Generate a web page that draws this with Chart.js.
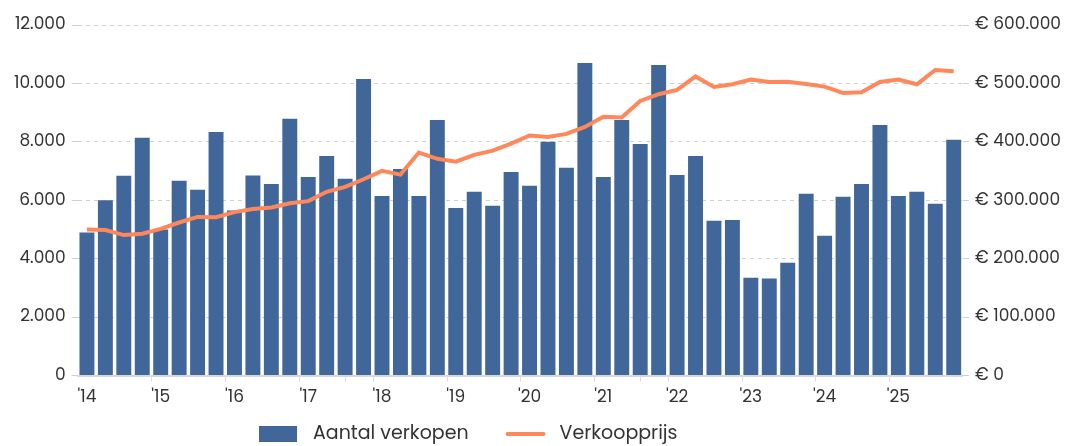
<!DOCTYPE html>
<html>
<head>
<meta charset="utf-8">
<script src="https://cdn.jsdelivr.net/npm/chart.js@4"></script>
<style>
  html, body { margin: 0; padding: 0; background: #fff; }
  #wrap { width: 1071px; height: 446px; }
</style>
</head>
<body>
<div id="wrap"><canvas id="chart"></canvas></div>
<script>
// quarters 2014 Q1 .. 2025 Q4
var years = ['2014','2015','2016','2017','2018','2019','2020','2021','2022','2023','2024','2025'];
var yearTicks = ["'14","'15","'16","'17","'18","'19","'20","'21","'22","'23","'24","'25"];
var quarters = ['K1','K2','K3','K4'];
var categories = years.flatMap(y => quarters.map(q => q + ' ' + y));

// number of sales per quarter
var aantalVerkopen = [
    4900, 6000, 6840, 8140,
    5000, 6670, 6360, 8340,
    5650, 6850, 6560, 8790,
    6800, 7520, 6740, 10150,
    6150, 7070, 6150, 8750,
    5740, 6290, 5810, 6970,
    6500, 8000, 7110, 10700,
    6800, 8750, 7930, 10630,
    6870, 7520, 5300, 5330,
    3350, 3320, 3860, 6220,
    4790, 6120, 6560, 8580,
    6150, 6290, 5880, 8070
];

// average sale price per quarter (euro)
var verkoopprijs = [
    250000, 249000, 240500, 242700,
    251000, 262000, 271500, 271000,
    279800, 285000, 287700, 295000,
    298600, 314500, 323000, 336000,
    350400, 344000, 381800, 371000,
    366000, 377800, 385000, 397000,
    411000, 408500, 413700, 425600,
    443000, 441600, 470000, 481500,
    489000, 512000, 494000, 498600,
    506500, 502600, 503000, 499000,
    494600, 483800, 485000, 502600,
    506500, 498600, 523000, 520800
];

var barColor = '#41679a';
var lineColor = '#ff885a';
var textColor = '#333333';
var tickColor = '#dcdcdc';
var fontFamily = "'Poppins', 'Noto Sans', sans-serif";

function dots(n) {
    return String(n).replace(/\B(?=(\d{3})+(?!\d))/g, '.');
}

// small ticks on the year boundaries of the x axis
var yearBoundaryTicks = {
    id: 'yearBoundaryTicks',
    afterDraw(chart) {
        var xs = chart.scales.x;
        var ctx = chart.ctx;
        var half = (xs.getPixelForValue(1) - xs.getPixelForValue(0)) / 2;
        ctx.save();
        ctx.strokeStyle = tickColor;
        ctx.lineWidth = 1;
        ctx.beginPath();
        for (var i = 4; i < categories.length; i += 4) {
            var px = Math.round(xs.getPixelForValue(i) - half) + 0.5;
            ctx.moveTo(px, xs.top);
            ctx.lineTo(px, xs.top + 6);
        }
        ctx.stroke();
        ctx.restore();
    }
};

// legend drawn below the axis, left-shifted like the original
var bottomLegend = {
    id: 'bottomLegend',
    afterDraw(chart) {
        var ctx = chart.ctx;
        var y = 434;
        var x = 259;
        ctx.save();
        ctx.font = '19px ' + fontFamily;
        ctx.textBaseline = 'middle';
        chart.data.datasets.forEach(ds => {
            if (ds.type === 'bar') {
                ctx.fillStyle = ds.backgroundColor;
                ctx.fillRect(x, y - 8, 38, 16);
            } else {
                ctx.strokeStyle = ds.borderColor;
                ctx.lineWidth = 4;
                ctx.lineCap = 'round';
                ctx.beginPath();
                ctx.moveTo(x + 2, y);
                ctx.lineTo(x + 38, y);
                ctx.stroke();
            }
            x += 38 + 16;
            ctx.fillStyle = textColor;
            ctx.fillText(ds.label, x, y);
            x += ctx.measureText(ds.label).width + 37;
        });
        ctx.restore();
    }
};

var canvas = document.getElementById('chart');
var chart = new Chart(canvas, {
    data: {
        labels: categories,
        datasets: [{
            type: 'bar',
            label: 'Aantal verkopen',
            data: aantalVerkopen,
            backgroundColor: barColor,
            yAxisID: 'y',
            order: 2,
            categoryPercentage: 1,
            barPercentage: 0.81
        }, {
            type: 'line',
            label: 'Verkoopprijs',
            data: verkoopprijs,
            borderColor: lineColor,
            backgroundColor: lineColor,
            borderWidth: 4,
            pointRadius: 0,
            tension: 0,
            yAxisID: 'y1',
            order: 1
        }]
    },
    options: {
        responsive: true,
        maintainAspectRatio: false,
        animation: false,
        layout: { padding: { top: 25, left: 8, right: 4, bottom: 32 } },
        plugins: {
            tooltip: { enabled: false },
            legend: { display: false }
        },
        scales: {
            x: {
                offset: true,
                border: { display: true, color: '#d8d8d8', width: 2 },
                grid: {
                    drawOnChartArea: false,
                    drawTicks: true,
                    tickLength: 6,
                    color: ctx => (ctx.index % 4 === 0 ? tickColor : 'rgba(0,0,0,0)')
                },
                ticks: {
                    autoSkip: false,
                    maxRotation: 0,
                    padding: 6,
                    color: textColor,
                    font: { family: fontFamily, size: 17 },
                    callback: (v, i) => (i % 4 === 0 ? yearTicks[i / 4] : null)
                }
            },
            y: {
                position: 'left',
                min: 0,
                max: 12000,
                border: { display: false, dash: [4, 4] },
                grid: {
                    color: '#d0d0d0',
                    tickLength: 6,
                    tickBorderDash: [],
                    drawTicks: true
                },
                ticks: {
                    stepSize: 2000,
                    padding: 6,
                    color: textColor,
                    font: { family: fontFamily, size: 17 },
                    callback: v => dots(v)
                }
            },
            y1: {
                position: 'right',
                min: 0,
                max: 600000,
                border: { display: false },
                grid: { drawOnChartArea: false, color: '#d0d0d0', tickLength: 6 },
                ticks: {
                    stepSize: 100000,
                    padding: 6,
                    color: textColor,
                    font: { family: fontFamily, size: 17 },
                    callback: v => '€ ' + dots(v)
                }
            }
        }
    },
    plugins: [yearBoundaryTicks, bottomLegend]
});
</script>
</body>
</html>
